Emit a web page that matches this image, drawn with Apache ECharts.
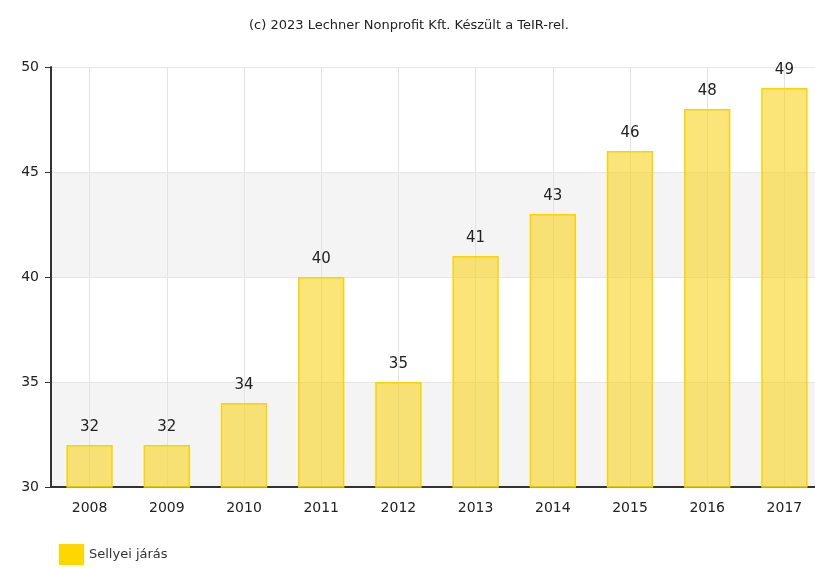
<!DOCTYPE html>
<html>
<head>
<meta charset="utf-8">
<script src="https://cdn.jsdelivr.net/npm/echarts@6/dist/echarts.min.js"></script>
<style>
  html, body { margin: 0; padding: 0; background: #fff; overflow: hidden; }
  #chart { width: 830px; height: 568px; }
</style>
</head>
<body>
<div id="chart"></div>
<script>
const years = ['2008', '2009', '2010', '2011', '2012', '2013', '2014', '2015', '2016', '2017'];
const values = [32, 32, 34, 40, 35, 41, 43, 46, 48, 49];
const seriesName = 'Sellyei járás';
const yTicks = [30, 35, 40, 45, 50];

const chart = echarts.init(document.getElementById('chart'));
const font = 'DejaVu Sans';

chart.setOption({
  animation: false,
  textStyle: { fontFamily: font },
  title: {
    text: '(c) 2023 Lechner Nonprofit Kft. Készült a TeIR-rel.',
    left: 244,
    top: 14,
    textStyle: { fontSize: 13, fontWeight: 'normal', color: '#222', fontFamily: font }
  },
  legend: {
    left: 54,
    bottom: -2,
    itemWidth: 25,
    itemHeight: 21,
    itemGap: 6,
    icon: 'rect',
    textStyle: { fontSize: 13, color: '#333', fontFamily: font },
    data: [{ name: seriesName, itemStyle: { color: '#FFD700', borderWidth: 0 } }]
  },
  grid: { left: 51, top: 67, right: 7, bottom: 81, containLabel: false },
  xAxis: {
    type: 'category',
    data: years,
    axisLine: { lineStyle: { color: '#333', width: 2 } },
    axisTick: { alignWithLabel: true, length: 6, lineStyle: { color: '#333' } },
    axisLabel: { fontSize: 14, color: '#222', margin: 14, fontFamily: font },
    splitLine: { show: true, alignWithLabel: true, lineStyle: { color: '#e3e3e3' } }
  },
  yAxis: {
    type: 'value',
    min: yTicks[0],
    max: yTicks[yTicks.length - 1],
    interval: 5,
    axisLine: { show: true, lineStyle: { color: '#333', width: 2 } },
    axisTick: { show: true, length: 6, lineStyle: { color: '#333' } },
    axisLabel: { fontSize: 14, color: '#222', margin: 12, fontFamily: font },
    splitLine: { show: true, lineStyle: { color: '#e6e6e6' } },
    splitArea: { show: true, areaStyle: { color: ['#f4f4f4', '#ffffff'] } }
  },
  series: [{
    name: seriesName,
    type: 'bar',
    data: values,
    barWidth: '60%',
    itemStyle: { color: 'rgba(248, 212, 30, 0.6)', borderColor: '#F8D400', borderWidth: 1.5 },
    label: { show: true, position: 'top', distance: 10, fontSize: 15, color: '#222', fontFamily: font }
  }]
});
</script>
</body>
</html>
